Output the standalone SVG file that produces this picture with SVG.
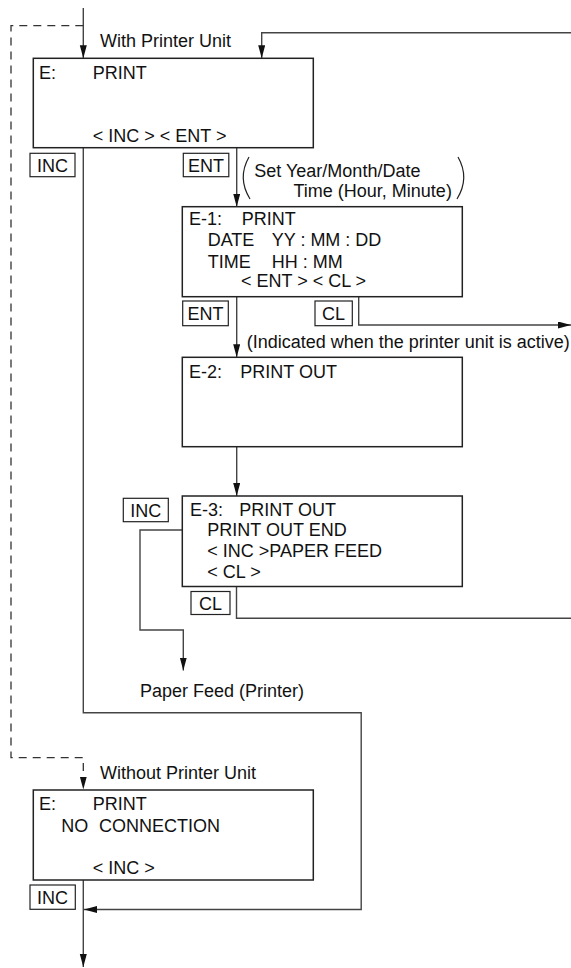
<svg xmlns="http://www.w3.org/2000/svg" width="571" height="968" viewBox="0 0 571 968">
<style>
text{font-family:"Liberation Sans",Arial,sans-serif;font-size:18px;fill:#111}
.box{fill:#fff;stroke:#222;stroke-width:1.5}
.key{fill:#fff;stroke:#222;stroke-width:1.2}
.kt{text-anchor:middle}
.ln{fill:none;stroke:#444;stroke-width:1.4}
.dash{fill:none;stroke:#333;stroke-width:1.3;stroke-dasharray:8 6}
.par{fill:none;stroke:#222;stroke-width:1.2}
</style>
<defs>
<marker id="ah" markerUnits="userSpaceOnUse" markerWidth="14" markerHeight="8" refX="13" refY="3.5" orient="auto">
<path d="M0,0 L13,3.5 L0,7 z" fill="#111"/>
</marker>
</defs>
<rect width="571" height="968" fill="#fff"/>

<g id="connectors">
<path class="ln" d="M83.3 8 V58.3" marker-end="url(#ah)"/>
<path class="dash" d="M83.3 25.7 H11 V757.7 H83.3 V789.5" marker-end="url(#ah)"/>
<path class="ln" d="M571 32.7 H261.7 V58.3" marker-end="url(#ah)"/>
<path class="ln" d="M83.3 148 V712.7 H361.2 V909.5 H84" marker-end="url(#ah)"/>
<path class="ln" d="M236.7 148 V206.7" marker-end="url(#ah)"/>
<path class="ln" d="M236.7 296.7 V357.3" marker-end="url(#ah)"/>
<path class="ln" d="M358.7 296.7 V325 H571" marker-end="url(#ah)"/>
<path class="ln" d="M236.7 446.7 V496" marker-end="url(#ah)"/>
<path class="ln" d="M182.3 530 H140 V630 H183.3 V670.5" marker-end="url(#ah)"/>
<path class="ln" d="M236.5 586.5 V618.3 H571"/>
<path class="ln" d="M83.3 880 V967" marker-end="url(#ah)"/>
</g>

<g id="labels">
<text x="100" y="46.7">With Printer Unit</text>
<text x="100" y="779">Without Printer Unit</text>
<text x="246.7" y="347.7">(Indicated when the printer unit is active)</text>
<text x="140" y="696.7">Paper Feed (Printer)</text>
</g>

<g id="note-set-date">
<path class="par" d="M249 157 Q237 178 250 199"/>
<path class="par" d="M458 157 Q470 178 457 199"/>
<text x="254.3" y="177">Set Year/Month/Date</text>
<text x="293.5" y="196.7">Time (Hour, Minute)</text>
</g>

<g id="node-E">
<rect class="box" x="33.3" y="58.3" width="280" height="89.4"/>
<text x="39" y="79.3">E:</text>
<text x="92.7" y="79.3">PRINT</text>
<text x="92.7" y="141.7">&lt; INC &gt; &lt; ENT &gt;</text>
</g>

<g id="key-E-INC">
<rect class="key" x="30" y="153.3" width="45" height="23.4"/>
<text class="kt" x="52.5" y="171.5">INC</text>
</g>
<g id="key-E-ENT">
<rect class="key" x="183.3" y="153.3" width="45.5" height="23.4"/>
<text class="kt" x="206" y="171.5">ENT</text>
</g>

<g id="node-E1">
<rect class="box" x="182.3" y="206.7" width="280" height="90"/>
<text x="189" y="225">E-1:</text>
<text x="241.7" y="225">PRINT</text>
<text x="207.7" y="246">DATE</text>
<text x="271.7" y="246">YY : MM : DD</text>
<text x="207.7" y="267.7">TIME</text>
<text x="271.7" y="267.7">HH : MM</text>
<text x="241" y="286.7">&lt; ENT &gt; &lt; CL &gt;</text>
</g>

<g id="key-E1-ENT">
<rect class="key" x="182.7" y="301" width="45.6" height="24.7"/>
<text class="kt" x="205.5" y="320">ENT</text>
</g>
<g id="key-E1-CL">
<rect class="key" x="315" y="301" width="37.3" height="24.7"/>
<text class="kt" x="333.6" y="320">CL</text>
</g>

<g id="node-E2">
<rect class="box" x="182.3" y="357.3" width="280" height="89.4"/>
<text x="189" y="378.3">E-2:</text>
<text x="240.3" y="378.3">PRINT OUT</text>
</g>

<g id="node-E3">
<rect class="box" x="182.3" y="496" width="280" height="90.5"/>
<text x="190" y="516">E-3:</text>
<text x="239.3" y="516">PRINT OUT</text>
<text x="207.3" y="535.5">PRINT OUT END</text>
<text x="207.3" y="556.7">&lt; INC &gt;PAPER FEED</text>
<text x="207.3" y="578.3">&lt; CL &gt;</text>
</g>

<g id="key-E3-INC">
<rect class="key" x="123.3" y="498.3" width="45" height="23.4"/>
<text class="kt" x="145.8" y="516.5">INC</text>
</g>
<g id="key-E3-CL">
<rect class="key" x="191" y="591.5" width="39" height="23"/>
<text class="kt" x="210.5" y="609.5">CL</text>
</g>

<g id="node-E-noprinter">
<rect class="box" x="33.3" y="790" width="280" height="90"/>
<text x="39" y="810">E:</text>
<text x="92.7" y="810">PRINT</text>
<text x="61.2" y="831.7">NO</text>
<text x="99" y="831.7">CONNECTION</text>
<text x="92.7" y="874">&lt; INC &gt;</text>
</g>

<g id="key-bottom-INC">
<rect class="key" x="30" y="885" width="45.3" height="24.3"/>
<text class="kt" x="52.6" y="903.5">INC</text>
</g>
</svg>
